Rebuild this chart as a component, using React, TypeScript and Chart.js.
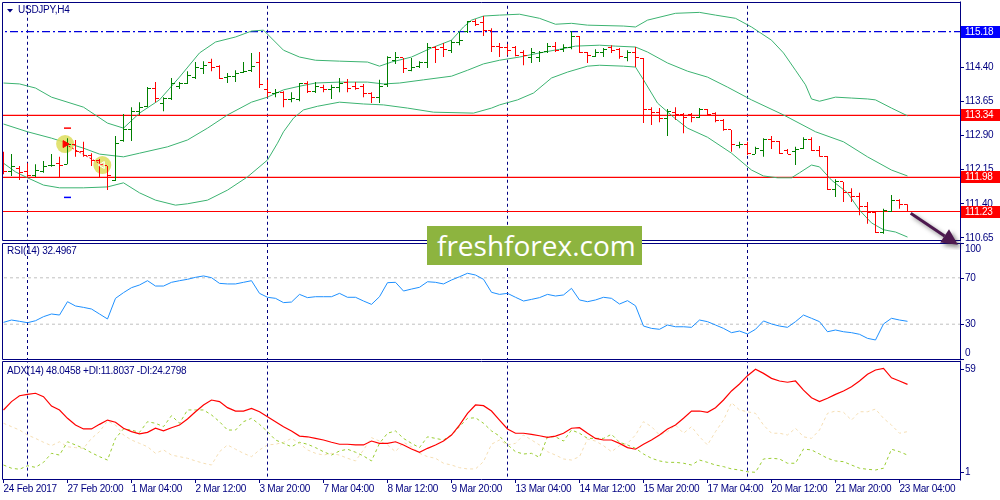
import { useEffect, useRef } from 'react';
import { Chart, registerables } from 'chart.js';

Chart.register(...registerables);

const FONT_FAMILY = "'Liberation Sans', Arial, sans-serif";
const FONT_SIZE = 10;
const LETTER_SPACING = '-0.25px';
const NAVY = '#000080';
const UP = '#008000';
const DOWN = '#ff0000';
const BAND = '#3cb371';

// ---------------- titles ----------------
const symbolTitle = 'USDJPY,H4';
const rsiTitle = 'RSI(14) 32.4967';
const adxTitle = 'ADX(14) 48.0458 +DI:11.8037 -DI:24.2798';
const watermark = 'freshforex.com';

// ---------------- price bars (H4) ----------------
const opens = [112.36,112.10,112.18,112.10,112.03,112.10,112.23,112.29,112.27,112.71,
 112.54,112.45,112.36,112.23,111.92,112.78,113.02,113.43,113.54,113.92,
 113.61,113.72,113.98,114.03,114.18,114.36,114.51,114.42,114.18,114.20,
 114.29,114.33,114.49,113.90,113.81,113.85,113.68,113.68,114.03,113.87,
 113.96,113.90,113.96,114.07,113.98,113.98,113.81,113.74,114.01,114.55,
 114.60,114.33,114.42,114.51,114.84,114.84,114.77,114.93,115.19,115.39,
 115.37,115.21,114.86,114.84,114.84,114.71,114.60,114.62,114.75,114.86,
 114.79,114.82,115.06,114.71,114.64,114.71,114.82,114.79,114.60,114.73,
 114.58,113.46,113.41,113.28,113.41,113.37,113.35,113.30,113.46,113.39,
 113.22,113.02,112.67,112.69,112.49,112.58,112.80,112.76,112.58,112.54,
 112.62,112.82,112.58,112.43,111.72,111.88,111.64,111.55,111.33,111.20,
 110.78,111.24,111.48,111.39];
const highs = [112.54,112.49,112.23,112.29,112.27,112.34,112.49,112.43,112.84,112.80,
 112.76,112.51,112.38,112.23,112.89,113.37,113.52,113.63,113.96,114.07,
 113.74,114.16,114.07,114.31,114.51,114.53,114.58,114.44,114.27,114.33,
 114.51,114.71,114.73,114.12,113.92,113.87,113.85,114.05,114.09,114.07,
 114.01,114.01,114.16,114.14,114.07,114.03,113.85,114.12,114.64,114.73,
 114.60,114.60,114.53,114.93,114.86,114.93,114.99,115.17,115.41,115.45,
 115.52,115.25,114.93,114.90,114.86,114.77,114.82,114.75,114.93,114.95,
 114.90,115.19,115.08,114.73,114.79,114.82,114.88,114.82,114.77,114.84,
 114.60,113.52,113.50,113.48,113.52,113.39,113.39,113.50,113.48,113.41,
 113.26,113.02,112.76,112.76,112.65,112.84,112.89,112.78,112.60,112.65,
 112.86,112.86,112.67,112.45,111.94,111.88,111.74,111.64,111.44,111.24,
 111.29,111.59,111.50,111.39];
const lows = [112.05,112.01,111.92,111.97,111.99,112.08,112.21,111.97,112.27,112.43,
 112.43,112.23,111.99,111.70,111.90,112.76,112.78,113.35,113.52,113.63,
 113.43,113.68,113.92,114.03,114.14,114.25,114.31,114.14,114.05,114.07,
 114.27,114.29,113.94,113.74,113.74,113.52,113.63,113.65,113.83,113.83,
 113.85,113.70,113.85,113.85,113.90,113.74,113.61,113.61,113.96,114.47,
 114.27,114.31,114.38,114.38,114.49,114.62,114.71,114.88,115.15,115.30,
 115.08,114.73,114.62,114.66,114.64,114.44,114.49,114.51,114.71,114.73,
 114.73,114.79,114.71,114.49,114.62,114.62,114.71,114.58,114.53,114.40,
 113.17,113.13,113.19,112.89,113.24,112.95,113.19,113.28,113.35,113.19,
 113.00,112.54,112.62,112.47,112.49,112.43,112.60,112.49,112.49,112.25,
 112.60,112.56,112.43,111.70,111.55,111.44,111.44,111.15,110.96,110.76,
 110.74,111.22,111.29,111.22];
const closes = [112.10,112.21,112.08,112.03,112.12,112.21,112.25,112.25,112.71,112.54,
 112.47,112.36,112.27,112.01,112.73,113.02,113.43,113.52,113.92,113.72,
 113.72,114.05,114.03,114.22,114.38,114.44,114.40,114.16,114.20,114.25,
 114.31,114.42,114.01,113.85,113.85,113.68,113.70,114.03,113.87,113.98,
 113.90,113.96,114.05,113.94,113.94,113.83,113.74,113.98,114.60,114.60,
 114.36,114.38,114.51,114.82,114.79,114.79,114.95,114.99,115.39,115.34,
 115.21,114.86,114.84,114.77,114.66,114.66,114.71,114.73,114.86,114.77,
 114.84,115.08,114.71,114.66,114.73,114.79,114.77,114.64,114.71,114.60,
 113.46,113.41,113.28,113.43,113.35,113.30,113.30,113.46,113.37,113.22,
 113.02,112.69,112.69,112.51,112.62,112.82,112.76,112.51,112.49,112.60,
 112.82,112.58,112.43,111.72,111.88,111.64,111.55,111.33,111.20,110.78,
 111.26,111.48,111.39,111.23];

// ---------------- Bollinger bands (read at bar positions) ----------------
const upperAt = [0,2,4,6,10,13,15,17,19.5,22,24.5,26.5,29,31,32.5,35,37,39,42,45.5,47,48.5,51,53.5,56,57.5,58.5,60,62,64.5,67,69,71,73,77.5,79,80.5,84,87,89,91.5,93.5,96,97.5,99,100.25,101,102,104,106,108,109,111,113];
const upperBand = [114.05,114.03,113.94,113.74,113.52,113.17,113.06,113.39,113.68,114.18,114.71,114.95,115.06,115.19,115.21,114.77,114.62,114.55,114.53,114.51,114.42,114.51,114.62,114.82,114.99,115.28,115.43,115.52,115.54,115.56,115.47,115.34,115.36,115.32,115.30,115.28,115.43,115.58,115.60,115.54,115.47,115.28,114.99,114.71,114.33,114.01,113.70,113.65,113.74,113.72,113.70,113.68,113.50,113.33];
const midAt = [0,3,6,8,10,12,14,15,17,20.5,23,25.5,28,31,33,35,37,39,42,45.5,47.5,49.5,52.5,56,58,60,62,64.5,67,69.5,71.5,74.5,76.5,79,80.5,83,85.5,88,90.5,93.5,97.5,101.5,105,108,111,113];
const midBand = [113.15,112.98,112.84,112.73,112.62,112.49,112.45,112.43,112.51,112.65,112.80,113.06,113.35,113.63,113.74,113.90,113.98,114.05,114.07,114.07,114.03,114.05,114.12,114.20,114.33,114.47,114.55,114.62,114.71,114.79,114.86,114.88,114.86,114.84,114.73,114.49,114.31,114.18,113.96,113.68,113.35,112.98,112.76,112.43,112.14,112.01];
const lowerAt = [0,1.5,3,5,7,10,13,15,17,19,21.5,23,25.5,28,30.5,33,34.25,35,36.25,37.5,39.25,42,45,47.5,50.5,53.75,58.75,61,62,64.25,66.25,68.5,70.5,73,74.5,77.5,79,80,81.75,83.75,85.5,88,91,93.5,95,96.75,98.5,99.5,101,102,103.5,105.5,107,108.5,110,111.5,113];
const lowerBand = [112.29,112.10,111.97,111.81,111.75,111.75,111.77,111.86,111.64,111.48,111.37,111.40,111.48,111.70,111.99,112.36,112.73,112.98,113.28,113.46,113.54,113.63,113.59,113.57,113.50,113.41,113.39,113.50,113.57,113.68,113.83,114.16,114.29,114.42,114.44,114.42,114.40,114.12,113.61,113.30,113.06,112.86,112.51,112.14,112.01,111.97,111.97,112.08,112.25,112.21,111.92,111.64,111.26,110.98,110.83,110.78,110.67];

// ---------------- RSI(14) ----------------
const rsiValues = [31.6,33.6,32.5,31.3,33.0,36.5,38.8,37.9,49.4,45.7,
 44.5,43.1,38.8,34.5,52.3,57.2,61.5,63.8,67.5,62.9,
 62.9,66.1,67.5,68.7,70.4,71.6,70.1,65.2,64.7,64.7,
 66.1,67.5,56.6,53.2,52.3,48.6,49.1,55.7,52.9,53.7,
 53.7,53.7,56.6,53.2,53.2,50.0,47.1,53.7,65.8,66.1,
 58.6,60.3,61.8,66.6,66.1,64.7,68.1,70.9,73.9,72.4,
 68.7,57.5,55.7,56.6,53.2,50.0,51.4,52.9,55.7,54.3,
 55.2,60.9,50.9,49.4,50.9,53.2,52.3,47.4,50.3,45.9,
 28.4,26.4,25.6,29.3,27.8,27.8,27.3,33.6,32.2,29.3,
 26.4,22.7,24.1,21.6,25.6,32.8,30.2,28.4,27.3,32.2,
 37.9,35.1,32.2,23.5,25.0,23.5,22.7,21.3,17.8,16.4,
 30.2,35.1,33.6,32.5];

// ---------------- ADX(14) ----------------
const adxValues = [36.1,40.8,44.1,44.9,45.5,43.6,38.3,36.1,31.4,27.6,
 25.4,25.4,28.0,30.4,29.2,25.8,23.9,22.6,23.5,25.8,
 24.3,26.1,27.6,31.0,35.1,38.9,41.7,40.8,37.4,35.5,
 35.5,37.0,35.1,32.3,29.5,26.7,24.3,21.4,21.0,20.1,
 19.2,17.9,16.8,16.8,16.4,16.4,18.6,17.3,17.3,18.2,
 16.4,14.1,12.3,14.5,16.4,18.6,22.0,27.6,34.2,38.9,
 38.5,35.5,30.4,25.4,23.0,23.0,22.4,21.6,20.7,21.4,
 23.0,25.8,26.1,23.0,20.1,19.2,19.2,17.3,14.9,14.0,
 16.8,19.2,22.0,25.4,27.6,31.4,35.5,35.5,34.8,37.4,
 41.7,46.8,50.7,55.4,59.0,56.7,53.9,52.4,51.7,52.4,
 47.3,43.0,40.8,42.7,44.9,46.8,49.2,52.4,56.2,58.6,
 59.5,54.2,52.4,50.5];
const plusDI = [5.1,3.3,2.7,4.7,3.8,6.6,11.7,10.7,18.2,16.4,
 14.5,12.0,9.8,7.9,20.1,25.4,24.8,23.5,29.5,28.6,
 26.7,32.9,28.6,36.1,36.1,36.1,33.3,29.5,24.8,24.8,
 29.5,31.4,28.0,23.9,19.2,17.3,15.4,17.9,16.8,14.9,
 12.6,10.7,13.0,14.0,12.3,10.2,7.4,17.3,23.0,24.3,
 20.1,17.3,14.9,21.0,20.1,19.2,22.0,26.7,31.4,31.7,
 28.6,24.3,21.4,16.5,12.6,11.3,11.7,9.4,21.0,21.0,
 18.6,24.8,23.0,20.1,20.1,20.1,22.4,17.9,16.4,14.5,
 11.3,8.9,7.4,6.6,6.6,6.1,5.1,7.9,6.6,5.1,
 4.2,2.9,2.3,1.3,1.0,8.5,8.9,8.5,6.1,6.1,
 14.1,13.6,11.3,8.9,7.4,7.0,5.1,3.3,2.7,2.3,
 3.3,14.0,12.6,10.7];
const minusDI = [28.6,26.7,24.8,22.0,20.1,17.9,16.0,18.2,15.4,14.9,
 14.5,20.1,23.9,29.9,27.6,22.0,19.2,17.3,15.4,11.7,
 13.6,10.7,9.8,8.9,7.4,6.1,5.1,12.6,16.4,14.0,
 11.7,9.8,13.6,16.4,16.8,17.9,20.1,17.3,13.6,11.7,
 10.7,11.7,10.7,8.9,7.4,13.6,20.5,18.6,16.4,12.6,
 17.9,15.4,11.7,9.8,8.9,6.1,5.1,3.6,2.9,2.9,
 7.0,16.8,19.2,16.4,17.3,22.0,19.2,16.4,12.6,10.7,
 8.5,7.9,9.8,19.7,18.6,16.0,12.6,16.0,17.3,22.0,
 29.5,26.7,22.0,23.9,27.6,23.0,26.7,21.0,16.4,23.9,
 30.4,40.2,36.1,35.1,34.2,27.6,23.0,23.0,22.0,25.8,
 21.0,20.1,24.8,34.2,35.5,34.8,30.4,35.1,35.1,36.6,
 31.4,27.6,23.0,23.9];

// ---------------- axes / annotations ----------------
const timeTickBars = [0,8,16,24,32,40,48,56,64,72,80,88,96,104,112];
const timeLabels = ['24 Feb 2017','27 Feb 20:00','1 Mar 04:00','2 Mar 12:00','3 Mar 20:00','7 Mar 04:00','8 Mar 12:00','9 Mar 20:00','13 Mar 04:00','14 Mar 12:00','15 Mar 20:00','17 Mar 04:00','20 Mar 12:00','21 Mar 20:00','23 Mar 04:00'];
const priceTicks = [115.15, 114.40, 113.65, 112.90, 112.15, 111.40, 110.65];
const priceTags = [115.18, 113.34, 111.98, 111.23];
const tagColors = ['#0000ff', '#ff0000', '#ff0000', '#ff0000'];
const blueLevels = [115.18];
const redLevels = [113.34, 111.98, 111.23];
const separatorBars = [3, 33, 63, 93];
const rsiLevels = [70, 30];
const rsiAxisTicks = [100, 70, 30, 0];
const adxAxisTicks = [59, 1];
const highlightBars = [7.7, 12.35];
const highlightPrices = [112.71, 112.25];
const fractalBars = [8, 8];
const fractalPrices = [113.06, 111.54];
const fractalColors = ['#ff0000', '#0000ff'];
const arrowBars = [113.4, 119.3];
const arrowPrices = [111.19, 110.50];

// scale ranges (view window of the terminal)
const X_MIN = -0.1875;
const X_MAX = 119.5625;
const PRICE_MIN = 110.605;
const PRICE_MAX = 115.828;
const ADX_MIN = -2.77;
const ADX_MAX = 63.67;

function tickImage(color: string, side: 'left' | 'right') {
  const c = document.createElement('canvas');
  c.width = 7;
  c.height = 1;
  const g = c.getContext('2d')!;
  g.fillStyle = color;
  g.fillRect(side === 'left' ? 0 : 4, 0, 3, 1);
  return c;
}

function lineSet(xs: number[], ys: number[], color: string, order: number, dash: number[] = [], width = 1) {
  return {
    type: 'line' as const,
    data: xs.map((x, i) => ({ x, y: ys[i] })),
    borderColor: color,
    borderWidth: width,
    borderDash: dash,
    pointRadius: 0,
    tension: 0,
    fill: false,
    order,
  };
}

function xScale(display: boolean) {
  return {
    type: 'linear' as const,
    min: X_MIN,
    max: X_MAX,
    display,
    offset: false,
  };
}

function hiddenY(min: number, max: number) {
  return {
    type: 'linear' as const,
    position: 'right' as const,
    min,
    max,
    ticks: { display: false },
    grid: { display: false },
    border: { display: false },
    afterFit: (s: any) => { s.width = 40; s.paddingTop = 0; s.paddingBottom = 0; },
  };
}

const ctxSetup = {
  id: 'ctxSetup',
  beforeDraw(chart: any) {
    chart.ctx.letterSpacing = LETTER_SPACING;
  },
  beforeDatasetsDraw(chart: any) {
    chart.ctx.imageSmoothingEnabled = false;
  },
};

function frame(top: number, bottom: number) {
  return {
    id: 'frame',
    afterDraw(chart: any) {
      const ctx = chart.ctx;
      ctx.save();
      ctx.strokeStyle = NAVY;
      ctx.lineWidth = 1;
      ctx.setLineDash([]);
      ctx.beginPath();
      ctx.moveTo(2.5, top);
      ctx.lineTo(960.5, top);
      ctx.moveTo(2.5, bottom);
      ctx.lineTo(960.5, bottom);
      ctx.moveTo(2.5, top);
      ctx.lineTo(2.5, bottom);
      ctx.moveTo(960.5, top - 1);
      ctx.lineTo(960.5, bottom + 1);
      ctx.stroke();
      ctx.restore();
    },
  };
}

function titlePlugin(text: string, x: number, y: number, triangle: boolean) {
  return {
    id: 'titleText',
    afterDraw(chart: any) {
      const ctx = chart.ctx;
      ctx.save();
      ctx.fillStyle = NAVY;
      if (triangle) {
        ctx.beginPath();
        ctx.moveTo(7, 9);
        ctx.lineTo(13, 9);
        ctx.lineTo(10, 12.5);
        ctx.closePath();
        ctx.fill();
      }
      ctx.font = FONT_SIZE + 'px ' + FONT_FAMILY;
      ctx.textBaseline = 'middle';
      ctx.textAlign = 'left';
      ctx.fillText(text, x, y);
      ctx.restore();
    },
  };
}

function sideLabels(values: number[]) {
  return {
    id: 'sideLabels',
    afterDraw(chart: any) {
      const ctx = chart.ctx;
      const ys = chart.scales.y;
      const area = chart.chartArea;
      ctx.save();
      ctx.font = FONT_SIZE + 'px ' + FONT_FAMILY;
      ctx.fillStyle = NAVY;
      ctx.strokeStyle = NAVY;
      ctx.textBaseline = 'middle';
      ctx.textAlign = 'left';
      values.forEach((v) => {
        const py = ys.getPixelForValue(v);
        const ty = Math.min(Math.max(py, area.top + 6), area.bottom - 6);
        ctx.beginPath();
        ctx.moveTo(960, Math.round(py) + 0.5);
        ctx.lineTo(964, Math.round(py) + 0.5);
        ctx.stroke();
        ctx.fillText(String(v), 965, ty);
      });
      ctx.restore();
    },
  };
}

function separators(min: number, max: number) {
  return separatorBars.map((b) => lineSet([b, b], [min - 100, max + 100], NAVY, 9, [3, 3]));
}

export default function App() {
  const priceRef = useRef<HTMLCanvasElement>(null);
  const rsiRef = useRef<HTMLCanvasElement>(null);
  const adxRef = useRef<HTMLCanvasElement>(null);

  useEffect(() => {
    Chart.defaults.font.family = FONT_FAMILY;
    Chart.defaults.font.size = FONT_SIZE;
    Chart.defaults.color = NAVY;

    const up = closes.map((c, i) => c >= opens[i]);
    const barColors = up.map((u) => (u ? UP : DOWN));
    const openImgs = { up: tickImage(UP, 'left'), down: tickImage(DOWN, 'left') };
    const closeImgs = { up: tickImage(UP, 'right'), down: tickImage(DOWN, 'right') };

    const tagsAndArrow = {
      id: 'tagsAndArrow',
      afterDraw(chart: any) {
        const ctx = chart.ctx;
        const xs = chart.scales.x;
        const ys = chart.scales.y;
        ctx.save();
        ctx.font = FONT_SIZE + 'px ' + FONT_FAMILY;
        ctx.textBaseline = 'middle';
        ctx.textAlign = 'left';
        priceTags.forEach((v, i) => {
          const py = Math.round(ys.getPixelForValue(v));
          ctx.fillStyle = tagColors[i];
          ctx.fillRect(961, py - 6, 39, 12);
          ctx.fillStyle = '#ffffff';
          ctx.fillText(v.toFixed(2), 965, py);
        });
        // trend arrow
        const x1 = xs.getPixelForValue(arrowBars[0]);
        const y1 = ys.getPixelForValue(arrowPrices[0]);
        const x2 = xs.getPixelForValue(arrowBars[1]);
        const y2 = ys.getPixelForValue(arrowPrices[1]);
        const ang = Math.atan2(y2 - y1, x2 - x1);
        const cos = Math.cos(ang);
        const sin = Math.sin(ang);
        const headLen = 16;
        const headW = 8;
        const bx = x2 - cos * headLen;
        const by = y2 - sin * headLen;
        ctx.shadowColor = 'rgba(40,40,40,0.55)';
        ctx.shadowBlur = 4;
        ctx.shadowOffsetX = 3;
        ctx.shadowOffsetY = 3;
        ctx.strokeStyle = '#4d1a4f';
        ctx.fillStyle = '#4d1a4f';
        ctx.lineWidth = 3;
        ctx.beginPath();
        ctx.moveTo(x1, y1);
        ctx.lineTo(bx, by);
        ctx.stroke();
        ctx.beginPath();
        ctx.moveTo(x2, y2);
        ctx.lineTo(bx - sin * headW, by + cos * headW);
        ctx.lineTo(bx + sin * headW, by - cos * headW);
        ctx.closePath();
        ctx.fill();
        ctx.restore();
      },
    };

    const priceDatasets: any[] = [
      {
        type: 'bar',
        data: lows.map((l, i) => ({ x: i, y: [l, highs[i]] })),
        backgroundColor: barColors,
        borderWidth: 0,
        barThickness: 1,
        inflateAmount: 0,
        grouped: false,
        order: 2,
      },
      {
        type: 'line',
        data: opens.map((o, i) => ({ x: i, y: o })),
        showLine: false,
        pointRadius: 3,
        pointStyle: opens.map((_, i) => (up[i] ? openImgs.up : openImgs.down)),
        order: 1,
      },
      {
        type: 'line',
        data: closes.map((c, i) => ({ x: i, y: c })),
        showLine: false,
        pointRadius: 3,
        pointStyle: closes.map((_, i) => (up[i] ? closeImgs.up : closeImgs.down)),
        order: 1,
      },
      lineSet(upperAt, upperBand, BAND, 5),
      lineSet(midAt, midBand, BAND, 5),
      lineSet(lowerAt, lowerBand, BAND, 5),
      ...redLevels.map((v) => lineSet([X_MIN - 5, X_MAX + 5], [v, v], '#ff0000', 6, [], 1.2)),
      ...blueLevels.map((v) => lineSet([X_MIN - 5, X_MAX + 5], [v, v], '#0000dd', 6, [8, 3, 2, 3], 1.2)),
      ...separators(PRICE_MIN, PRICE_MAX),
      {
        type: 'line',
        data: highlightBars.map((x, i) => ({ x, y: highlightPrices[i] })),
        showLine: false,
        pointRadius: 9,
        pointBorderWidth: 0,
        pointBackgroundColor: 'rgba(222,222,96,0.88)',
        order: 4,
      },
      lineSet(highlightBars, highlightPrices, '#ff0000', 3, [2, 2]),
      {
        type: 'line',
        data: highlightBars.map((x, i) => ({ x, y: highlightPrices[i] })),
        showLine: false,
        pointStyle: 'triangle',
        pointRadius: 4,
        pointRotation: [90, -90],
        pointBackgroundColor: ['#ff0000', 'rgba(255,255,255,0.2)'],
        pointBorderColor: ['#ff0000', '#ffffff'],
        pointBorderWidth: 1,
        order: 0,
      },
      {
        type: 'line',
        data: fractalBars.map((x, i) => ({ x, y: fractalPrices[i] })),
        showLine: false,
        pointStyle: 'line',
        pointRadius: 3.5,
        pointBorderColor: fractalColors,
        pointBorderWidth: 1.5,
        order: 0,
      },
    ];

    const common = {
      responsive: false,
      animation: false as const,
      events: [] as any[],
      plugins: { legend: { display: false }, tooltip: { enabled: false } },
    };

    const charts: Chart[] = [];

    charts.push(new Chart(priceRef.current!, {
      type: 'line',
      data: { datasets: priceDatasets },
      options: {
        ...common,
        layout: { autoPadding: false, padding: { left: 2, right: 0, top: 2, bottom: 10 } },
        scales: {
          x: xScale(false),
          y: {
            type: 'linear',
            position: 'right',
            min: PRICE_MIN,
            max: PRICE_MAX,
            afterBuildTicks: (s: any) => { s.ticks = priceTicks.map((v) => ({ value: v })); },
            afterFit: (s: any) => { s.width = 40; s.paddingTop = 0; s.paddingBottom = 0; },
            grid: { drawOnChartArea: false, drawTicks: true, tickLength: 4, color: NAVY },
            border: { display: false },
            ticks: { padding: 1, color: NAVY, callback: (v: any) => Number(v).toFixed(2) },
          },
        },
      } as any,
      plugins: [ctxSetup, frame(2.5, 240.5), titlePlugin(symbolTitle, 18, 10.5, true), tagsAndArrow],
    }));

    charts.push(new Chart(rsiRef.current!, {
      type: 'line',
      data: {
        datasets: [
          lineSet(rsiValues.map((_, i) => i), rsiValues, '#1e90ff', 1),
          ...rsiLevels.map((v) => lineSet([X_MIN - 5, X_MAX + 5], [v, v], '#c0c0c0', 6, [3, 3])),
          ...separators(0, 100),
        ] as any[],
      },
      options: {
        ...common,
        layout: { autoPadding: false, padding: { left: 2, right: 0, top: 1, bottom: 1 } },
        scales: { x: xScale(false), y: hiddenY(0, 100) },
      } as any,
      plugins: [ctxSetup, frame(1.5, 117.5), titlePlugin(rsiTitle, 7, 9, false), sideLabels(rsiAxisTicks)],
    }));

    charts.push(new Chart(adxRef.current!, {
      type: 'line',
      data: {
        datasets: [
          lineSet(adxValues.map((_, i) => i), adxValues, '#ff0000', 1, [], 1.2),
          lineSet(plusDI.map((_, i) => i), plusDI, '#9acd32', 2, [3, 3]),
          lineSet(minusDI.map((_, i) => i), minusDI, '#f5deb3', 3, [3, 3]),
          ...separators(ADX_MIN, ADX_MAX),
        ] as any[],
      },
      options: {
        ...common,
        layout: { autoPadding: false, padding: { left: 2, right: 0, top: 1, bottom: 0 } },
        scales: {
          x: {
            type: 'linear',
            min: X_MIN,
            max: X_MAX,
            offset: false,
            position: 'bottom',
            afterBuildTicks: (s: any) => { s.ticks = timeTickBars.map((v) => ({ value: v })); },
            afterFit: (s: any) => { s.height = 21; s.paddingLeft = 0; s.paddingRight = 0; },
            grid: { drawOnChartArea: false, drawTicks: true, tickLength: 4, color: NAVY },
            border: { display: false },
            ticks: {
              autoSkip: false,
              maxRotation: 0,
              minRotation: 0,
              align: 'start',
              padding: 0,
              color: NAVY,
              callback: (_v: any, i: number) => timeLabels[i],
            },
          },
          y: hiddenY(ADX_MIN, ADX_MAX),
        },
      } as any,
      plugins: [ctxSetup, frame(1.5, 119.5), titlePlugin(adxTitle, 7, 11.5, false), sideLabels(adxAxisTicks)],
    }));

    return () => { charts.forEach((c) => c.destroy()); };
  }, []);

  return (
    <div style={{ position: 'absolute', left: 0, top: 0, width: 1000, height: 500, background: '#ffffff', overflow: 'hidden' }}>
      <canvas ref={rsiRef} width={1000} height={118} style={{ position: 'absolute', left: 0, top: 242, zIndex: 1 }} />
      <canvas ref={adxRef} width={1000} height={140} style={{ position: 'absolute', left: 0, top: 360, zIndex: 1 }} />
      <canvas ref={priceRef} width={1000} height={250} style={{ position: 'absolute', left: 0, top: 0, zIndex: 2 }} />
      <div
        style={{
          position: 'absolute', left: 427, top: 226, width: 215, height: 39, zIndex: 3,
          background: '#8db43f', color: '#ffffff', fontFamily: "'Open Sans', sans-serif",
          fontSize: 28, lineHeight: '38px', paddingLeft: 10, boxSizing: 'border-box', whiteSpace: 'nowrap',
        }}
      >
        {watermark}
      </div>
    </div>
  );
}
